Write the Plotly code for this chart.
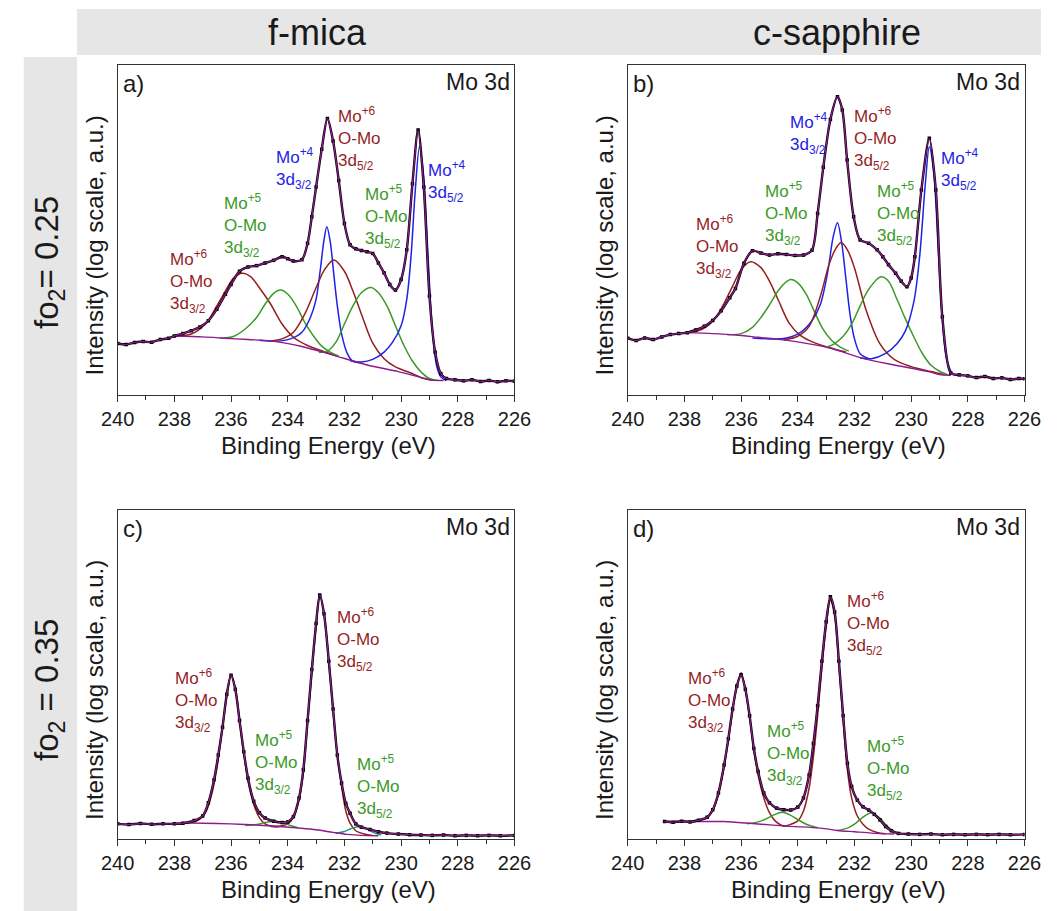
import plotly.graph_objects as go

W, H = 1058, 911
FONT = "Liberation Sans, Arial, Helvetica, sans-serif"
BROWN = "#951f1f"
GREEN = "#3b9a27"
TEAL = "#1f9a80"
BLUE = "#1e22e6"
PURPLE = "#8e1a8e"
TXT = "#1a1a1a"

X_TICKS = [240, 238, 236, 234, 232, 230, 228, 226]
COLUMNS = ["f-mica", "c-sapphire"]
ROWS = ["fo<sub>2</sub>= 0.25", "fo<sub>2</sub> = 0.35"]
PANEL_TAGS = ["a)", "b)", "c)", "d)"]
CORE = "Mo 3d"
X_TITLE = "Binding Energy (eV)"
Y_TITLE = "Intensity (log scale, a.u.)"

# ---------------- panel a (f-mica, fO2 = 0.25) ----------------
A_DATA_X = [240.0, 239.7, 239.4, 239.1, 238.8, 238.5, 238.2, 238.0, 237.7, 237.4,
            237.1, 236.8, 236.5, 236.2, 236.0, 235.7, 235.4, 235.1, 234.8, 234.5,
            234.2, 234.0, 233.8, 233.5, 233.3, 233.15, 233.0, 232.8, 232.6, 232.4,
            232.2, 232.0, 231.8, 231.6, 231.4, 231.2, 231.0, 230.8, 230.6, 230.4,
            230.2, 230.0, 229.8, 229.6, 229.4, 229.2, 229.0, 228.8, 228.6, 228.4,
            228.1, 227.8, 227.5, 227.2, 226.9, 226.6, 226.3, 226.0]
A_DATA_Y = [15.6, 15.3, 15.9, 16.2, 16.0, 16.8, 17.2, 17.9, 18.6, 19.5,
            20.6, 22.5, 26.0, 30.5, 33.5, 37.5, 38.8, 39.2, 40.0, 40.8,
            41.9, 41.3, 40.6, 41.0, 46.0, 54.0, 63.0, 74.5, 83.8, 77.0,
            65.0, 52.0, 45.5, 44.3, 43.8, 43.4, 42.9, 40.0, 37.0, 33.5,
            31.8, 35.0, 44.0, 64.0, 80.3, 63.0, 30.0, 13.0, 6.5, 5.0,
            4.6, 4.3, 4.6, 4.1, 4.4, 4.0, 4.3, 4.2]
A_BG_X = [238.0, 237.0, 236.2, 235.4, 234.6, 233.5, 232.4, 231.2, 230.1, 229.2, 228.9, 228.5]
A_BG_Y = [17.9, 17.6, 17.2, 16.8, 16.4, 14.7, 12.1, 9.1, 7.1, 5.1, 4.5, 4.4]
A_MO6_32_X = [238.0, 237.4, 236.9, 236.6, 236.2, 235.9, 235.6, 235.3, 235.0, 234.6,
              234.2, 233.8, 233.3, 232.8, 232.3]
A_MO6_32_Y = [17.8, 18.5, 21.5, 25.5, 31.5, 35.5, 36.9, 35.8, 32.5, 27.5,
              21.5, 17.5, 15.0, 13.4, 11.9]
A_MO5_32_X = [236.4, 235.9, 235.5, 235.1, 234.8, 234.5, 234.25, 234.0, 233.7, 233.4,
              233.1, 232.8, 232.5, 232.2]
A_MO5_32_Y = [17.2, 17.8, 20.0, 23.5, 27.5, 30.8, 31.8, 30.6, 27.0, 22.0,
              18.0, 14.8, 13.0, 11.8]
A_MO4_32_X = [235.0, 234.4, 233.9, 233.5, 233.2, 233.0, 232.85, 232.72, 232.62, 232.5,
              232.38, 232.25, 232.1, 231.9, 231.7, 231.4]
A_MO4_32_Y = [16.6, 16.3, 17.0, 19.0, 23.5, 29.0, 38.0, 47.0, 51.0, 46.5,
              37.0, 27.0, 18.5, 12.6, 10.2, 9.8]
A_MO6_52_X = [234.6, 234.2, 233.8, 233.4, 233.0, 232.7, 232.37, 232.0, 231.7, 231.4,
              231.0, 230.6, 230.2, 229.7, 229.2, 228.8]
A_MO6_52_Y = [16.4, 17.0, 19.0, 24.5, 32.5, 38.0, 40.9, 37.5, 31.5, 24.5,
              15.7, 11.0, 8.5, 6.8, 5.0, 4.4]
A_MO5_52_X = [232.9, 232.6, 232.3, 232.0, 231.7, 231.4, 231.06, 230.8, 230.5, 230.2,
              229.9, 229.6, 229.3, 229.0, 228.7]
A_MO5_52_Y = [12.9, 13.3, 16.0, 21.5, 27.0, 31.0, 32.6, 31.0, 27.0, 21.0,
              15.0, 10.3, 7.0, 5.0, 4.4]
A_MO4_52_X = [231.8, 231.4, 231.0, 230.6, 230.3, 230.0, 229.8, 229.65, 229.5, 229.35,
              229.2, 229.05, 228.9, 228.75, 228.6, 228.4]
A_MO4_52_Y = [10.4, 10.0, 10.8, 13.0, 16.0, 21.0, 29.0, 42.0, 62.0, 75.3,
              66.0, 42.0, 20.0, 9.0, 5.5, 4.4]

# ---------------- panel b (c-sapphire, fO2 = 0.25) ----------------
B_DATA_X = [240.0, 239.7, 239.4, 239.1, 238.8, 238.5, 238.2, 237.9, 237.6, 237.3,
            237.0, 236.7, 236.4, 236.2, 235.9, 235.6, 235.3, 235.0, 234.7, 234.4,
            234.1, 233.8, 233.5, 233.3, 233.1, 232.85, 232.6, 232.43, 232.26, 232.03,
            231.8, 231.5, 231.2, 231.0, 230.8, 230.55, 230.35, 230.15, 230.0, 229.87,
            229.64, 229.36, 229.13, 228.9, 228.6, 228.3, 228.0, 227.7, 227.4, 227.1,
            226.8, 226.5, 226.2, 226.0]
B_DATA_Y = [17.2, 16.5, 17.3, 16.8, 17.6, 18.3, 18.6, 18.9, 19.7, 20.8,
            22.6, 25.5, 29.5, 32.3, 39.9, 43.7, 43.0, 42.4, 42.8, 42.6,
            42.3, 42.4, 43.9, 55.0, 69.0, 83.5, 90.4, 86.4, 71.2, 54.0,
            47.0, 46.0, 44.0, 41.9, 39.5, 36.9, 34.5, 32.8, 35.5, 41.9,
            62.1, 77.8, 62.1, 23.7, 6.6, 6.1, 5.8, 5.3, 5.6, 5.0,
            5.2, 4.7, 5.0, 4.9]
B_BG_X = [238.0, 237.0, 236.2, 235.4, 234.5, 233.6, 232.8, 231.7, 230.6, 229.4, 228.95, 228.6]
B_BG_Y = [18.9, 18.6, 18.2, 17.5, 16.7, 15.5, 14.1, 11.1, 9.1, 7.1, 6.1, 6.0]
B_MO6_32_X = [238.0, 237.6, 237.2, 236.9, 236.6, 236.3, 236.0, 235.67, 235.3, 235.0,
              234.7, 234.3, 233.9, 233.4, 232.9, 232.3]
B_MO6_32_Y = [18.9, 19.2, 20.8, 23.5, 27.8, 33.0, 38.0, 40.4, 38.6, 34.5,
              29.0, 21.7, 18.0, 15.8, 14.4, 13.0]
B_MO5_32_X = [236.5, 236.0, 235.6, 235.3, 235.0, 234.7, 234.45, 234.25, 234.0, 233.7,
              233.4, 233.1, 232.8, 232.5, 232.2]
B_MO5_32_Y = [18.3, 18.6, 20.5, 23.5, 27.3, 31.5, 34.0, 35.0, 34.0, 30.5,
              25.0, 19.8, 16.5, 14.5, 13.3]
B_MO4_32_X = [235.6, 235.0, 234.4, 233.9, 233.5, 233.2, 232.95, 232.75, 232.6, 232.45,
              232.3, 232.15, 232.0, 231.8, 231.5]
B_MO4_32_Y = [17.3, 17.0, 17.3, 19.0, 22.5, 27.5, 37.0, 48.0, 52.2, 46.0,
              35.0, 24.0, 17.0, 12.5, 11.0]
B_MO6_52_X = [234.5, 234.0, 233.6, 233.2, 232.9, 232.65, 232.47, 232.25, 232.0, 231.6,
              231.1, 230.6, 230.0, 229.3, 228.8]
B_MO6_52_Y = [16.7, 17.8, 20.8, 30.0, 39.5, 44.5, 46.2, 44.0, 38.5, 26.0,
              15.5, 10.8, 8.6, 7.1, 6.1]
B_MO5_52_X = [233.0, 232.7, 232.4, 232.1, 231.8, 231.5, 231.07, 230.8, 230.5, 230.2,
              229.9, 229.6, 229.3, 229.0, 228.7]
B_MO5_52_Y = [14.5, 15.6, 17.8, 21.5, 27.0, 32.0, 35.8, 34.5, 29.0, 23.0,
              17.5, 12.5, 9.0, 7.2, 6.1]
B_MO4_52_X = [231.8, 231.4, 230.9, 230.5, 230.2, 229.9, 229.7, 229.5, 229.36, 229.2,
              229.05, 228.9, 228.75, 228.55, 228.3]
B_MO4_52_Y = [11.2, 11.0, 12.6, 15.5, 19.5, 28.5, 42.0, 64.0, 75.2, 67.0,
              45.0, 23.0, 11.0, 6.6, 5.8]

# ---------------- panel c (f-mica, fO2 = 0.35) ----------------
C_DATA_X = [240.0, 239.6, 239.2, 238.8, 238.4, 238.0, 237.7, 237.3, 237.0, 236.8,
            236.6, 236.45, 236.3, 236.15, 236.0, 235.85, 235.7, 235.55, 235.4, 235.2,
            235.0, 234.8, 234.5, 234.2, 234.0, 233.8, 233.6, 233.45, 233.3, 233.15,
            233.0, 232.87, 232.72, 232.55, 232.4, 232.25, 232.1, 231.95, 231.8, 231.6,
            231.4, 231.1, 230.8, 230.5, 230.1, 229.7, 229.3, 228.9, 228.5, 228.1,
            227.7, 227.3, 226.9, 226.5, 226.0]
C_DATA_Y = [4.6, 4.4, 4.7, 4.5, 4.6, 4.6, 4.8, 5.6, 7.0, 11.0,
            18.0, 25.5, 34.0, 44.0, 49.8, 45.5, 36.0, 26.5, 18.5, 11.5,
            8.0, 6.4, 5.4, 5.0, 5.2, 6.8, 12.5, 21.0, 36.0, 51.5,
            65.5, 74.2, 68.5, 54.0, 39.5, 25.5, 17.0, 10.8, 7.8, 4.6,
            3.6, 2.9, 2.2, 1.8, 1.5, 1.3, 1.2, 1.1, 1.2, 1.0,
            1.1, 1.0, 1.1, 1.0, 1.1]
C_BG_X = [238.0, 237.0, 236.0, 235.0, 234.3, 233.6, 233.0, 232.4, 231.9, 231.4, 230.8]
C_BG_Y = [4.8, 4.8, 4.6, 4.2, 3.8, 3.3, 2.8, 2.0, 1.4, 1.1, 1.0]
C_MO6_32_X = [237.6, 237.2, 236.9, 236.7, 236.5, 236.3, 236.15, 236.0, 235.85, 235.7,
              235.55, 235.4, 235.2, 235.0, 234.8, 234.55, 234.3]
C_MO6_32_Y = [4.8, 5.5, 8.0, 13.0, 21.5, 34.0, 43.5, 49.8, 46.0, 36.0,
              26.0, 17.5, 10.5, 6.5, 4.6, 3.9, 3.7]
C_MO6_52_X = [234.6, 234.3, 234.0, 233.8, 233.6, 233.45, 233.3, 233.15, 233.0, 232.87,
              232.72, 232.55, 232.4, 232.25, 232.1, 231.95, 231.8, 231.6, 231.3, 231.0]
C_MO6_52_Y = [3.8, 3.9, 4.6, 6.5, 12.0, 20.0, 35.5, 50.5, 64.5, 74.2,
              68.5, 54.0, 39.0, 25.5, 16.0, 8.5, 4.8, 2.5, 1.5, 1.1]
C_MO5_32_X = [235.5, 235.1, 234.8, 234.5, 234.2, 233.9, 233.6]
C_MO5_32_Y = [4.1, 4.4, 5.0, 5.4, 5.0, 4.1, 3.3]
C_MO5_52_X = [232.3, 232.0, 231.75, 231.45, 231.2, 230.95, 230.7]
C_MO5_52_Y = [1.8, 2.3, 3.2, 3.8, 3.0, 1.9, 1.2]

# ---------------- panel d (c-sapphire, fO2 = 0.35) ----------------
D_DATA_X = [238.7, 238.4, 238.1, 237.8, 237.5, 237.2, 237.0, 236.8, 236.6, 236.45,
            236.3, 236.15, 236.0, 235.85, 235.7, 235.55, 235.4, 235.2, 235.0, 234.75,
            234.5, 234.25, 234.0, 233.8, 233.6, 233.45, 233.3, 233.15, 233.0, 232.85,
            232.7, 232.55, 232.4, 232.25, 232.1, 231.9, 231.7, 231.5, 231.3, 231.1,
            230.9, 230.7, 230.45, 230.1, 229.7, 229.3, 228.9, 228.5, 228.1, 227.7,
            227.3, 226.9, 226.5, 226.0]
D_DATA_Y = [5.3, 5.1, 5.4, 5.2, 5.7, 6.6, 8.9, 14.0, 22.5, 30.5,
            39.5, 46.5, 49.9, 45.5, 37.5, 27.5, 20.5, 14.0, 11.0, 9.4,
            8.9, 8.8, 9.7, 12.5, 19.5, 29.0, 40.5, 54.0, 66.0, 73.6,
            69.0, 54.0, 37.5, 23.0, 16.0, 11.8, 9.8, 8.8, 7.5, 5.8,
            3.8, 2.5, 1.7, 1.5, 1.4, 1.5, 1.3, 1.4, 1.3, 1.4,
            1.3, 1.4, 1.3, 1.4]
D_BG_X = [238.6, 237.5, 236.6, 235.6, 234.4, 233.2, 232.6, 232.0, 231.4, 230.6]
D_BG_Y = [5.3, 5.3, 5.3, 4.7, 3.9, 3.3, 2.6, 2.2, 1.8, 1.5]
D_MO6_32_X = [237.6, 237.2, 237.0, 236.8, 236.6, 236.45, 236.3, 236.15, 236.0, 235.85,
              235.7, 235.55, 235.4, 235.2, 235.0, 234.8, 234.6, 234.4]
D_MO6_32_Y = [5.4, 6.4, 8.7, 13.5, 22.0, 30.0, 39.0, 46.5, 50.5, 45.5,
              37.0, 27.0, 19.5, 12.5, 8.0, 5.5, 4.3, 3.9]
D_MO6_52_X = [234.55, 234.3, 234.0, 233.8, 233.6, 233.45, 233.3, 233.15, 233.0, 232.85,
              232.7, 232.55, 232.4, 232.25, 232.1, 231.9, 231.7, 231.5, 231.2, 230.9]
D_MO6_52_Y = [3.9, 4.3, 5.5, 8.5, 15.5, 25.0, 37.5, 52.0, 64.5, 72.5,
              68.0, 53.0, 36.0, 21.0, 12.5, 7.0, 4.5, 3.0, 2.0, 1.6]
D_MO5_32_X = [235.8, 235.4, 235.1, 234.8, 234.55, 234.3, 234.0, 233.7, 233.3]
D_MO5_32_Y = [4.6, 5.2, 6.2, 7.5, 8.1, 7.4, 5.9, 4.5, 3.4]
D_MO5_52_X = [232.6, 232.25, 232.0, 231.75, 231.4, 231.1, 230.85, 230.6, 230.35]
D_MO5_52_Y = [2.6, 3.3, 4.5, 6.3, 8.0, 6.3, 4.0, 2.3, 1.6]

# ---------------- peak labels ----------------
L_MO6_32 = "Mo<sup>+6</sup><br>O-Mo<br>3d<sub>3/2</sub>"
L_MO6_52 = "Mo<sup>+6</sup><br>O-Mo<br>3d<sub>5/2</sub>"
L_MO5_32 = "Mo<sup>+5</sup><br>O-Mo<br>3d<sub>3/2</sub>"
L_MO5_52 = "Mo<sup>+5</sup><br>O-Mo<br>3d<sub>5/2</sub>"
L_MO4_32 = "Mo<sup>+4</sup><br>3d<sub>3/2</sub>"
L_MO4_52 = "Mo<sup>+4</sup><br>3d<sub>5/2</sub>"

# layout (pixel boxes of the four panels)
PANEL_BOX = [(104, 514, 65, 395), (631, 1041, 65, 395),
             (104, 514, 510, 839), (631, 1041, 510, 839)]

PANELS = [
    dict(data=(A_DATA_X, A_DATA_Y), bg=(A_BG_X, A_BG_Y),
         comps=[(A_MO6_32_X, A_MO6_32_Y, BROWN), (A_MO5_32_X, A_MO5_32_Y, GREEN),
                (A_MO4_32_X, A_MO4_32_Y, BLUE), (A_MO6_52_X, A_MO6_52_Y, BROWN),
                (A_MO5_52_X, A_MO5_52_Y, GREEN), (A_MO4_52_X, A_MO4_52_Y, BLUE)],
         labels=[(L_MO6_32, 238.22, 34.3, BROWN), (L_MO5_32, 236.32, 51.5, GREEN),
                 (L_MO4_32, 234.5, 68.5, BLUE), (L_MO6_52, 232.31, 77.8, BROWN),
                 (L_MO5_52, 231.34, 54.0, GREEN), (L_MO4_52, 229.12, 64.6, BLUE)]),
    dict(data=(B_DATA_X, B_DATA_Y), bg=(B_BG_X, B_BG_Y),
         comps=[(B_MO6_32_X, B_MO6_32_Y, BROWN), (B_MO5_32_X, B_MO5_32_Y, GREEN),
                (B_MO4_32_X, B_MO4_32_Y, BLUE), (B_MO6_52_X, B_MO6_52_Y, BROWN),
                (B_MO5_52_X, B_MO5_52_Y, GREEN), (B_MO4_52_X, B_MO4_52_Y, BLUE)],
         labels=[(L_MO6_32, 237.67, 44.9, BROWN), (L_MO5_32, 235.22, 55.0, GREEN),
                 (L_MO4_32, 234.34, 79.3, BLUE), (L_MO6_52, 232.09, 77.8, BROWN),
                 (L_MO5_52, 231.27, 55.0, GREEN), (L_MO4_52, 229.03, 68.2, BLUE)]),
    dict(data=(C_DATA_X, C_DATA_Y), bg=(C_BG_X, C_BG_Y),
         comps=[(C_MO6_32_X, C_MO6_32_Y, BROWN), (C_MO6_52_X, C_MO6_52_Y, BROWN),
                (C_MO5_32_X, C_MO5_32_Y, GREEN), (C_MO5_52_X, C_MO5_52_Y, TEAL)],
         labels=[(L_MO6_32, 238.03, 42.2, BROWN), (L_MO6_52, 232.34, 60.5, BROWN),
                 (L_MO5_32, 235.21, 23.2, GREEN), (L_MO5_52, 231.63, 16.1, GREEN)]),
    dict(data=(D_DATA_X, D_DATA_Y), bg=(D_BG_X, D_BG_Y),
         comps=[(D_MO6_32_X, D_MO6_32_Y, BROWN), (D_MO6_52_X, D_MO6_52_Y, BROWN),
                (D_MO5_32_X, D_MO5_32_Y, GREEN), (D_MO5_52_X, D_MO5_52_Y, GREEN)],
         labels=[(L_MO6_32, 237.93, 42.2, BROWN), (L_MO6_52, 232.35, 65.6, BROWN),
                 (L_MO5_32, 235.16, 26.0, GREEN), (L_MO5_52, 231.64, 21.5, GREEN)]),
]


def fx(p):
    return p / W


def fy(p):
    return 1 - p / H


fig = go.Figure()
annotations = []
layout = {}

for i, (panel, box) in enumerate(zip(PANELS, PANEL_BOX), start=1):
    sfx = "" if i == 1 else str(i)
    xa, ya = "x" + sfx, "y" + sfx
    x0, x1, y0, y1 = box

    for xs, ys in [panel["data"], panel["bg"]] + [(c[0], c[1]) for c in panel["comps"]]:
        assert len(xs) == len(ys)

    # components and background
    for xs, ys, col in panel["comps"]:
        fig.add_trace(go.Scatter(x=xs, y=ys, mode="lines", xaxis=xa, yaxis=ya,
                                 line=dict(color=col, width=1.5, shape="spline", smoothing=0.9),
                                 hoverinfo="skip", showlegend=False))
    fig.add_trace(go.Scatter(x=panel["bg"][0], y=panel["bg"][1], mode="lines", xaxis=xa, yaxis=ya,
                             line=dict(color=PURPLE, width=1.4, shape="spline", smoothing=0.8),
                             hoverinfo="skip", showlegend=False))
    # measured data
    fig.add_trace(go.Scatter(x=panel["data"][0], y=panel["data"][1], mode="lines+markers",
                             xaxis=xa, yaxis=ya,
                             line=dict(color="black", width=2.4, shape="spline", smoothing=0.8),
                             marker=dict(symbol="square", size=3.5, color="black"),
                             hoverinfo="skip", showlegend=False))
    # fit envelope
    fig.add_trace(go.Scatter(x=panel["data"][0], y=panel["data"][1], mode="lines",
                             xaxis=xa, yaxis=ya,
                             line=dict(color=PURPLE, width=1.2, shape="spline", smoothing=0.8),
                             hoverinfo="skip", showlegend=False))

    layout["xaxis" + sfx] = dict(
        domain=[fx(x0), fx(x1)], anchor=ya, range=[240, 226],
        tickmode="array", tickvals=X_TICKS, ticks="outside", ticklen=6, tickwidth=1,
        tickcolor="#333", tickfont=dict(size=20, color=TXT, family=FONT),
        minor=dict(tickmode="array", tickvals=[239, 237, 235, 233, 231, 229, 227],
                   ticks="outside", ticklen=4, tickcolor="#333"),
        showline=True, linecolor="#333", linewidth=1.2, mirror=True,
        showgrid=False, zeroline=False, fixedrange=True)
    layout["yaxis" + sfx] = dict(
        domain=[fy(y1), fy(y0)], anchor=xa, range=[0, 100],
        showticklabels=False, ticks="", showline=True, linecolor="#333", linewidth=1.2,
        mirror=True, showgrid=False, zeroline=False, fixedrange=True)

    for text, lx, ly, col in panel["labels"]:
        annotations.append(dict(text=text, x=lx, y=ly, xref=xa, yref=ya, xanchor="left",
                                yanchor="middle", align="left", showarrow=False,
                                font=dict(size=17, color=col, family=FONT)))

    # panel tag and core level
    annotations.append(dict(text=PANEL_TAGS[i - 1], x=fx(x0 + 3), y=fy(y0 + 18), xref="paper",
                            yref="paper", xanchor="left", yanchor="middle", showarrow=False,
                            font=dict(size=24, color=TXT, family=FONT)))
    annotations.append(dict(text=CORE, x=fx(x1 - 3), y=fy(y0 + 17), xref="paper", yref="paper",
                            xanchor="right", yanchor="middle", showarrow=False,
                            font=dict(size=23, color=TXT, family=FONT)))
    # axis titles
    annotations.append(dict(text=X_TITLE, x=fx((x0 + x1) / 2 + 13), y=fy(y1 + 50), xref="paper",
                            yref="paper", xanchor="center", yanchor="middle", showarrow=False,
                            font=dict(size=24, color=TXT, family=FONT)))
    annotations.append(dict(text=Y_TITLE, x=fx(x0 - 24), y=fy((y0 + y1) / 2 + 15), xref="paper",
                            yref="paper", xanchor="center", yanchor="middle", showarrow=False,
                            textangle=-90, font=dict(size=24, color=TXT, family=FONT)))

# column and row headers
for text, cx in zip(COLUMNS, [310, 847]):
    annotations.append(dict(text=text, x=fx(cx), y=fy(32), xref="paper", yref="paper",
                            xanchor="center", yanchor="middle", showarrow=False,
                            font=dict(size=36, color=TXT, family=FONT)))
for text, cy in zip(ROWS, [262, 690]):
    annotations.append(dict(text=text, x=fx(33), y=fy(cy), xref="paper", yref="paper",
                            xanchor="center", yanchor="middle", showarrow=False, textangle=-90,
                            font=dict(size=33, color=TXT, family=FONT)))

shapes = [
    dict(type="rect", xref="paper", yref="paper", x0=fx(62), x1=fx(1058), y0=fy(55), y1=fy(9),
         fillcolor="#e6e6e6", line=dict(width=0), layer="below"),
    dict(type="rect", xref="paper", yref="paper", x0=fx(7), x1=fx(62), y0=fy(911), y1=fy(57),
         fillcolor="#e6e6e6", line=dict(width=0), layer="below"),
]

fig.update_layout(
    autosize=True, height=H, margin=dict(l=0, r=0, t=0, b=0),
    paper_bgcolor="white", plot_bgcolor="white", showlegend=False,
    font=dict(family=FONT, color=TXT),
    annotations=annotations, shapes=shapes, **layout)

RESET_PAGE = ("document.documentElement.style.margin='0';document.body.style.margin='0';"
              "document.body.style.padding='0';document.documentElement.style.overflow='hidden';"
              "window.dispatchEvent(new Event('resize'));")

fig.write_html("out.html", post_script=RESET_PAGE, default_width="100%",
               default_height="%dpx" % H,
               config={"displayModeBar": False, "responsive": True})
